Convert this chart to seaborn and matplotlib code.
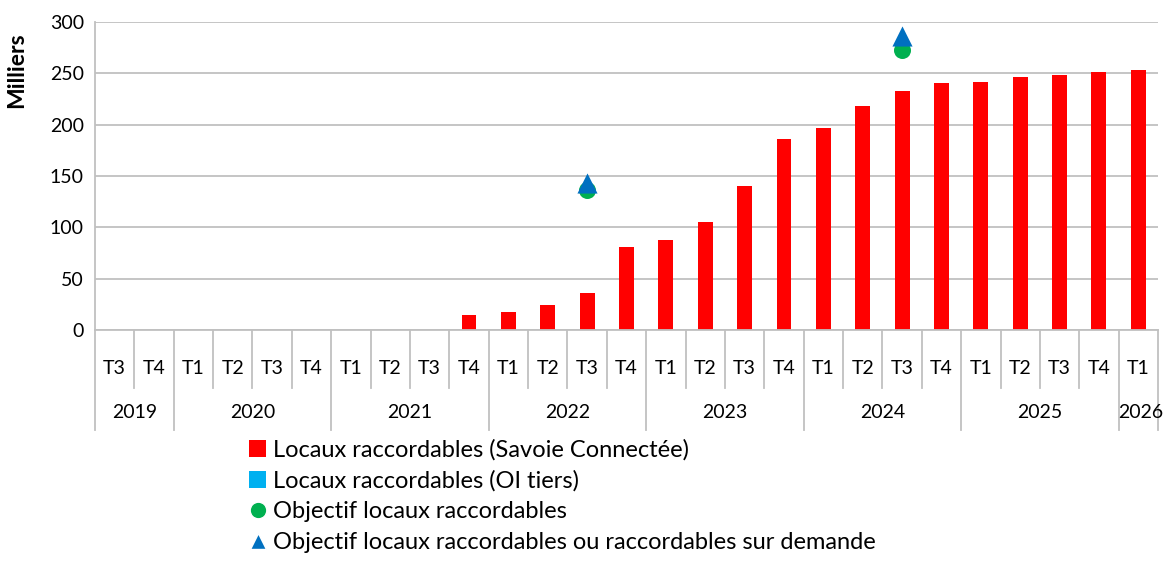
import numpy as np
import pandas as pd
import matplotlib
matplotlib.use("Agg")
import matplotlib.pyplot as plt
import seaborn as sns
from matplotlib.lines import Line2D
from matplotlib.patches import Patch

# quarters from 2019 T3 to 2026 T1
years = ["2019", "2020", "2021", "2022", "2023", "2024", "2025", "2026"]
quarters_per_year = [["T3", "T4"], ["T1", "T2", "T3", "T4"], ["T1", "T2", "T3", "T4"],
                     ["T1", "T2", "T3", "T4"], ["T1", "T2", "T3", "T4"], ["T1", "T2", "T3", "T4"],
                     ["T1", "T2", "T3", "T4"], ["T1"]]

# thousands of premises (Savoie Connectée)
savoie = [np.nan, np.nan, np.nan, np.nan, np.nan, np.nan, np.nan, np.nan, np.nan,
          14.5, 17.5, 24, 36, 81, 88, 105, 140, 186, 197, 218, 233, 241, 242, 246, 248, 251, 253]
oi_tiers = [np.nan] * 27

# objectives
obj_labels = ["2022 T3", "2024 T3"]
obj_raccordables = [136, 273]
obj_sur_demande = [143, 286]

labels = [f"{y} {q}" for y, qs in zip(years, quarters_per_year) for q in qs]
df = pd.DataFrame({"quarter": labels, "value": savoie})

plt.rcParams['font.family'] = ['Lato', 'DejaVu Sans']
fig = plt.figure(figsize=(11.73, 5.66), dpi=100)
ax = fig.add_axes([95 / 1173, 1 - 330 / 566, (1158 - 95) / 1173, 308 / 566])

sns.barplot(data=df, x="quarter", y="value", order=labels, color="#ff0000",
            width=0.38, linewidth=0, saturation=1, ax=ax)

pos = [labels.index(l) for l in obj_labels]
sns.scatterplot(x=pos, y=obj_raccordables, color="#00b050", marker="o", s=150,
                linewidth=0, ax=ax, zorder=5)
sns.scatterplot(x=pos, y=obj_sur_demande, color="#0070c0", marker="^", s=210,
                linewidth=0, ax=ax, zorder=6)

grid_c = "#c0c0c0"
ax.set_xlim(-0.5, len(labels) - 0.5)
ax.set_ylim(0, 300)
ax.set_yticks(range(0, 301, 50))
ax.yaxis.grid(True, color=grid_c, linewidth=1.3)
ax.set_axisbelow(True)
ax.tick_params(axis="y", length=0, labelsize=14, pad=8)
ax.tick_params(axis="x", length=0, labelbottom=False)
ax.set_xlabel("")
ax.set_ylabel("Milliers", fontsize=16.5, fontweight="bold")
ax.yaxis.set_label_coords(-0.064, 0.845)
for s in ["top", "right"]:
    ax.spines[s].set_visible(False)
ax.spines["left"].set_color(grid_c)
ax.spines["left"].set_linewidth(1.3)
ax.spines["bottom"].set_color(grid_c)
ax.spines["bottom"].set_linewidth(1.3)

# multi-level category axis
tr = ax.get_xaxis_transform()
px = 1 / 308  # one pixel in axes fraction (vertical)
i = 0
ax.plot([-0.5, -0.5], [0, -100 * px], color=grid_c, lw=1.3, transform=tr, clip_on=False)
for y, qs in zip(years, quarters_per_year):
    start = i
    for q in qs:
        ax.text(i, -39 * px, q, ha="center", va="center", fontsize=14, transform=tr)
        if i > start:
            ax.plot([i - 0.5, i - 0.5], [0, -58 * px], color=grid_c, lw=1.3,
                    transform=tr, clip_on=False)
        i += 1
    ax.plot([i - 0.5, i - 0.5], [0, -100 * px], color=grid_c, lw=1.3, transform=tr, clip_on=False)
    xc = (start + i - 1) / 2
    if y == "2026":
        xc += 0.05
    ax.text(xc, -83 * px, y, ha="center", va="center", fontsize=14, transform=tr)

handles = [
    Patch(facecolor="#ff0000", label="Locaux raccordables (Savoie Connectée)"),
    Patch(facecolor="#00b0f0", label="Locaux raccordables (OI tiers)"),
    Line2D([0], [0], marker="o", color="w", markerfacecolor="#00b050", markersize=12,
           label="Objectif locaux raccordables"),
    Line2D([0], [0], marker="^", color="w", markerfacecolor="#0070c0", markersize=12,
           label="Objectif locaux raccordables ou raccordables sur demande"),
]
fig.legend(handles=handles, loc="upper left", bbox_to_anchor=(240 / 1173, 1 - 430 / 566),
           frameon=False, fontsize=17, handlelength=0.7, handleheight=0.7,
           handletextpad=0.3, labelspacing=0.4, borderaxespad=0)

fig.savefig("out.png", dpi=100)
